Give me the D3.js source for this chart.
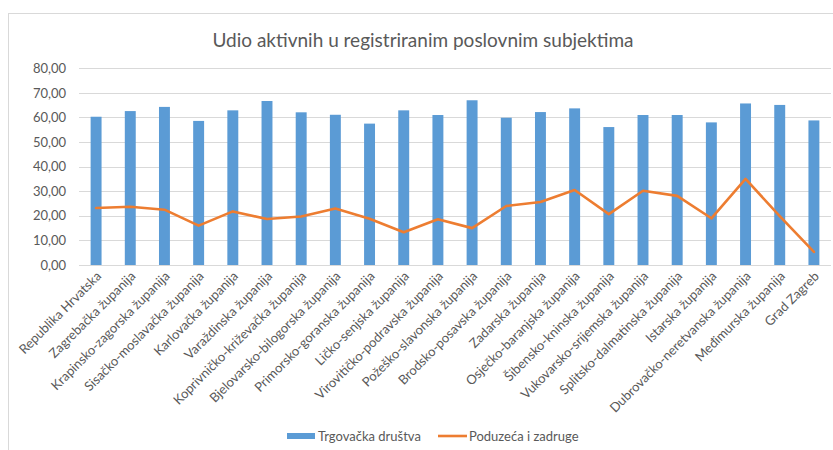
<!DOCTYPE html>
<html>
<head>
<meta charset="utf-8">
<script src="https://cdn.jsdelivr.net/npm/d3@7"></script>
<style>
  body { margin: 0; background: #fff; }
  svg { display: block; font-family: Lato, "Open Sans", sans-serif; }
</style>
</head>
<body>
<svg width="833" height="450"></svg>
<script>
var categories = [
    "Republika Hrvatska", "Zagrebačka županija", "Krapinsko-zagorska županija",
    "Sisačko-moslavačka županija", "Karlovačka županija", "Varaždinska županija",
    "Koprivničko-križevačka županija", "Bjelovarsko-bilogorska županija",
    "Primorsko-goranska županija", "Ličko-senjska županija",
    "Virovitičko-podravska županija", "Požeško-slavonska županija",
    "Brodsko-posavska županija", "Zadarska županija", "Osječko-baranjska županija",
    "Šibensko-kninska županija", "Vukovarsko-srijemska županija",
    "Splitsko-dalmatinska županija", "Istarska županija",
    "Dubrovačko-neretvanska županija", "Međimurska županija", "Grad Zagreb"
];
var trgovackaDrustva = [60.3, 62.6, 64.3, 58.6, 62.9, 66.7, 62.1, 61.1, 57.5, 62.9,
    61.0, 67.0, 59.9, 62.2, 63.7, 56.1, 61.0, 61.0, 58.0, 65.7, 65.1, 58.8];
var poduzecaZadruge = [23.2, 23.7, 22.5, 16.0, 21.8, 18.7, 19.7, 23.0, 18.8, 13.3,
    18.6, 15.0, 24.0, 25.6, 30.5, 20.7, 30.2, 28.1, 19.0, 35.0, 19.9, 5.3];
var yTicks = [0, 10, 20, 30, 40, 50, 60, 70, 80];
var seriesNames = ["Trgovačka društva", "Poduzeća i zadruge"];

var svg = d3.select("svg");
var blue = "#5B9BD5", orange = "#ED7D31", grey = "#595959";

// chart frame
svg.append("rect")
    .attr("x", 8.5).attr("y", 13.5)
    .attr("width", 840).attr("height", 450)
    .attr("fill", "none").attr("stroke", "#D9D9D9");

var plotLeft = 79, plotRight = 831, plotTop = 68.3, plotBottom = 265;

var x = d3.scaleBand()
    .domain(categories)
    .range([plotLeft, plotRight])
    .paddingInner(0.68)
    .paddingOuter(0.34);

var y = d3.scaleLinear().domain([0, 80]).range([plotBottom, plotTop]);

// gridlines
svg.append("g")
    .selectAll("line")
    .data(yTicks)
    .enter().append("line")
    .attr("x1", plotLeft).attr("x2", plotRight)
    .attr("y1", function(d) { return Math.round(y(d)) + 0.5; })
    .attr("y2", function(d) { return Math.round(y(d)) + 0.5; })
    .attr("stroke", "#D9D9D9").attr("stroke-width", 1);

// y axis labels
var yAxis = svg.append("g")
    .attr("transform", "translate(" + plotLeft + ",0)")
    .call(d3.axisLeft(y).tickValues(yTicks).tickSize(0).tickPadding(13)
        .tickFormat(function(d) { return d3.format(".2f")(d).replace(".", ","); }));
yAxis.select(".domain").remove();
yAxis.selectAll("text")
    .attr("fill", grey).attr("font-size", "13px")
    .attr("font-family", "Lato, sans-serif");

// bars
svg.append("g")
    .selectAll("rect")
    .data(trgovackaDrustva)
    .enter().append("rect")
    .attr("x", function(d, i) { return x(categories[i]); })
    .attr("width", x.bandwidth())
    .attr("y", function(d) { return y(d); })
    .attr("height", function(d) { return y(0) - y(d); })
    .attr("fill", blue);

// line
var lineFunction = d3.line()
    .x(function(d, i) { return x(categories[i]) + x.bandwidth() / 2; })
    .y(function(d) { return y(d); });

svg.append("path")
    .datum(poduzecaZadruge)
    .attr("d", lineFunction)
    .attr("fill", "none")
    .attr("stroke", orange)
    .attr("stroke-width", 2.6)
    .attr("stroke-linejoin", "round")
    .attr("stroke-linecap", "round");

// x axis labels
var xAxis = svg.append("g")
    .attr("transform", "translate(0," + plotBottom + ")")
    .call(d3.axisBottom(x).tickSize(0).tickPadding(0));
xAxis.select(".domain").remove();
xAxis.selectAll("text")
    .attr("fill", grey).attr("font-size", "13px")
    .attr("font-family", "Lato, sans-serif")
    .attr("text-anchor", "end")
    .attr("dy", "0")
    .attr("transform", "translate(6,12) rotate(-45)");

// title
svg.append("text")
    .attr("x", 423).attr("y", 47)
    .attr("text-anchor", "middle")
    .attr("fill", grey)
    .attr("font-size", "19px")
    .text("Udio aktivnih u registriranim poslovnim subjektima");

// legend
var legend = svg.append("g");
legend.append("rect")
    .attr("x", 287).attr("y", 433).attr("width", 28).attr("height", 6)
    .attr("fill", blue);
legend.append("text")
    .attr("x", 318).attr("y", 440.5)
    .attr("fill", grey).attr("font-size", "13px")
    .text(seriesNames[0]);
legend.append("line")
    .attr("x1", 438).attr("x2", 467).attr("y1", 436).attr("y2", 436)
    .attr("stroke", orange).attr("stroke-width", 2.6);
legend.append("text")
    .attr("x", 469).attr("y", 440.5)
    .attr("fill", grey).attr("font-size", "13px")
    .text(seriesNames[1]);
</script>
</body>
</html>
